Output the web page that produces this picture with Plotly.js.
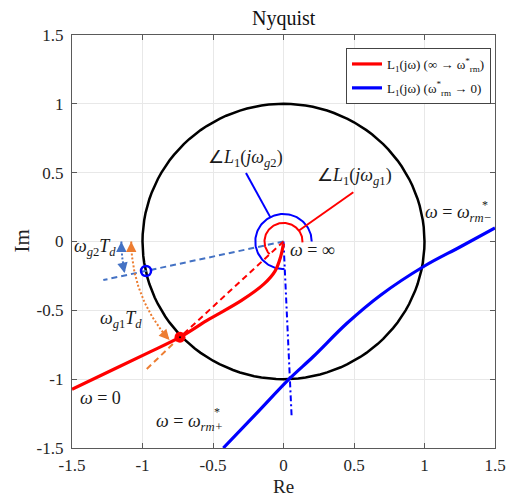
<!DOCTYPE html>
<html>
<head>
<meta charset="utf-8">
<script src="https://cdn.plot.ly/plotly-3.0.1.min.js"></script>
<style>html,body{margin:0;padding:0;background:#fff;}#chart{width:509px;height:496px;}</style>
</head>
<body>
<div id="chart"></div>
<script>
// ---- data ----
var tickVals = [-1.5, -1, -0.5, 0, 0.5, 1, 1.5];
var tickText = ["-1.5", "-1", "-0.5", "0", "0.5", "1", "1.5"];

// L1(jw), omega from infinity to omega*_rm (red)
var redRe = [-1.5, -1.2, -0.95, -0.734, -0.545, -0.30, -0.14, -0.06, -0.02, 0.0];
var redIm = [-1.073, -0.926, -0.804, -0.695, -0.575, -0.43, -0.31, -0.215, -0.11, -0.015];

// L1(jw), omega from omega*_rm to 0 (blue)
var blueRe = [-0.427, -0.2, 0.046, 0.21, 0.45, 0.688, 1.0, 1.255, 1.5];
var blueIm = [-1.5, -1.258, -0.993, -0.837, -0.594, -0.39, -0.178, -0.038, 0.098];

// crossing points with the unit circle
var g1Re = [-0.734], g1Im = [-0.695];
var g2Re = [-0.975], g2Im = [-0.214];

// straight guide lines
var redPtrRe = [0.11, 0.495],   redPtrIm = [0.08, 0.358];
var bluePtrRe = [-0.094, -0.266], bluePtrIm = [0.177, 0.498];
var redDashRe = [0, -0.734],  redDashIm = [0, -0.695];
var orgDashRe = [-0.734, -0.982], orgDashIm = [-0.695, -0.938];
var g2DashRe = [0, -1.278],   g2DashIm = [0, -0.28];
var vDashRe = [0, 0.058],     vDashIm = [0, -1.28];

// arcs: [radius, start deg, end deg]
var unitCircle = [1, 0, 360];
var redArc = [0.135, -3, 223];
var blueArc = [0.2, 0, 272];
var orangeArc = [1.08, 180, 221.5];
var blueDotArc = [1.15, 180, 191.5];

function arc(p) {
  var xs = [], ys = [], n = 120;
  for (var i = 0; i <= n; i++) {
    var t = (p[1] + (p[2] - p[1]) * i / n) * Math.PI / 180;
    xs.push(p[0] * Math.cos(t)); ys.push(p[0] * Math.sin(t));
  }
  return {x: xs, y: ys};
}
function arcEnd(p, which) {
  var d = which === 0 ? p[1] : p[2];
  var t = d * Math.PI / 180;
  var tip = [p[0] * Math.cos(t), p[0] * Math.sin(t)];
  var dir = which === 0 ? [Math.sin(t), -Math.cos(t)] : [-Math.sin(t), Math.cos(t)];
  return {x: tip[0], y: tip[1], ax: tip[0] - 0.05 * dir[0], ay: tip[1] - 0.05 * dir[1]};
}

var RED = '#ff0000', BLUE = '#0000ff', STEEL = '#4472c4', ORANGE = '#ed7d31';
function line(x, y, color, width, dash, extra) {
  var t = {x: x, y: y, mode: 'lines', type: 'scatter', showlegend: false, hoverinfo: 'skip',
           line: {color: color, width: width, dash: dash || 'solid'}};
  if (extra) for (var k in extra) t[k] = extra[k];
  return t;
}

var c = arc(unitCircle), ra = arc(redArc), ba = arc(blueArc), oa = arc(orangeArc), bd = arc(blueDotArc);

var traces = [
  line(c.x, c.y, '#000000', 2.5),
  line(g2DashRe, g2DashIm, STEEL, 2, '6px,4px'),
  line(vDashRe, vDashIm, BLUE, 2, '6px,3px,2px,3px'),
  line(orgDashRe, orgDashIm, ORANGE, 2, '6px,4px'),
  line(redDashRe, redDashIm, RED, 2, '6px,4px'),
  line(oa.x, oa.y, ORANGE, 2, '2px,2px'),
  line(bd.x, bd.y, STEEL, 2, '2px,2px'),
  line(ra.x, ra.y, RED, 2),
  line(ba.x, ba.y, BLUE, 2),
  line(redPtrRe, redPtrIm, RED, 2),
  line(bluePtrRe, bluePtrIm, BLUE, 2),
  line(redRe, redIm, RED, 3.2, 'solid', {showlegend: true, legendgroup: 'a', name: 'L<sub>1</sub>(jω) (∞ → ω<sup>*</sup><sub>rm</sub>)', line: {color: RED, width: 3.2, shape: 'spline'}}),
  line(blueRe, blueIm, BLUE, 3.2, 'solid', {showlegend: true, legendgroup: 'b', name: 'L<sub>1</sub>(jω) (ω<sup>*</sup><sub>rm</sub> → 0)', line: {color: BLUE, width: 3.2, shape: 'spline'}}),
  {x: g2Re, y: g2Im, mode: 'markers', type: 'scatter', showlegend: false, hoverinfo: 'skip',
   marker: {symbol: 'circle-open', size: 10, color: BLUE, line: {width: 2.5, color: BLUE}}},
  {x: g1Re, y: g1Im, mode: 'markers', type: 'scatter', showlegend: false, hoverinfo: 'skip',
   marker: {symbol: 'circle', size: 11, color: RED}},
  {x: g1Re, y: g1Im, mode: 'markers', type: 'scatter', showlegend: false, hoverinfo: 'skip',
   marker: {symbol: 'circle', size: 2, color: '#000'}}
];

var SERIF = 'Liberation Serif';
function lab(x, y, text, size, xanchor, extra) {
  var a = {x: x, y: y, xref: 'x', yref: 'y', text: text, showarrow: false,
           font: {family: SERIF, size: size || 18, color: '#1a1a1a'}, xanchor: xanchor || 'center', yanchor: 'middle'};
  if (extra) for (var k in extra) a[k] = extra[k];
  return a;
}
function arrow(e, color) {
  return {x: e.x, y: e.y, ax: e.ax, ay: e.ay, xref: 'x', yref: 'y', axref: 'x', ayref: 'y',
          text: '', showarrow: true, arrowhead: 2, arrowsize: 1.3, arrowwidth: 1.6, arrowcolor: color};
}

var annotations = [
  lab(-0.266, 0.6, '∠<i>L</i><sub>1</sub>(<i>jω</i><sub><i>g</i>2</sub>)', 18),
  lab(0.507, 0.469, '∠<i>L</i><sub>1</sub>(<i>jω</i><sub><i>g</i>1</sub>)', 18),
  lab(0.99, 0.207, '<i>ω</i> = <i>ω</i><sub><i>rm−</i></sub>', 18, 'left'),
  lab(1.43, 0.265, '*', 12, 'center'),
  lab(0.033, -0.06, '<i>ω</i> = ∞', 18, 'left'),
  lab(-1.5, -0.04, '<i>ω</i><sub><i>g</i>2</sub><i>T</i><sub><i>d</i></sub>', 18, 'left'),
  lab(-1.152, -0.57, '<i>ω</i><sub><i>g</i>1</sub><i>T</i><sub><i>d</i></sub>', 18),
  lab(-1.46, -1.136, '<i>ω</i> = 0', 18, 'left'),
  lab(-0.92, -1.318, '<i>ω</i> = <i>ω</i><sub><i>rm+</i></sub>', 18, 'left'),
  lab(-0.474, -1.236, '*', 12, 'center'),
  arrow(arcEnd(blueDotArc, 0), STEEL),
  arrow(arcEnd(blueDotArc, 1), STEEL),
  arrow(arcEnd(orangeArc, 0), ORANGE),
  arrow(arcEnd(orangeArc, 1), ORANGE),
  {x: 0.5, y: 1, xref: 'paper', yref: 'paper', yanchor: 'middle', yshift: 17, text: 'Nyquist', showarrow: false,
   font: {family: SERIF, size: 20, color: '#111'}},
  {x: 0.5, y: 0, xref: 'paper', yref: 'paper', yanchor: 'middle', yshift: -38, text: 'Re', showarrow: false,
   font: {family: SERIF, size: 19, color: '#222'}},
  {x: 0, y: 0.5, xref: 'paper', yref: 'paper', xanchor: 'center', xshift: -51, text: 'Im', showarrow: false, textangle: -90,
   font: {family: SERIF, size: 21, color: '#222'}}
];

var axisCommon = {
  range: [-1.5, 1.5], tickvals: tickVals, ticktext: tickText, showgrid: true, gridcolor: '#e8e8e8', gridwidth: 1,
  zeroline: false, showline: true, linecolor: '#5a5a5a', linewidth: 1.2, mirror: 'ticks', ticks: 'inside',
  ticklen: 5, tickcolor: '#5a5a5a', tickfont: {family: SERIF, size: 17, color: '#262626'}, fixedrange: true
};
var layout = {
  width: 509, height: 496, margin: {l: 72, r: 14, t: 35, b: 48}, paper_bgcolor: '#fff', plot_bgcolor: '#fff',
  xaxis: Object.assign({}, axisCommon, {ticklabelstandoff: 1}),
  yaxis: Object.assign({}, axisCommon, {ticklabelstandoff: 4}),
  showlegend: true,
  legend: {x: 0.9905, y: 0.9685, xanchor: 'right', yanchor: 'top', bgcolor: '#fff', bordercolor: '#444', borderwidth: 1,
           font: {family: SERIF, size: 13, color: '#111'}, tracegroupgap: 4, itemwidth: 30},
  annotations: annotations
};
Plotly.newPlot('chart', traces, layout, {displayModeBar: false, staticPlot: true});
</script>
</body>
</html>
